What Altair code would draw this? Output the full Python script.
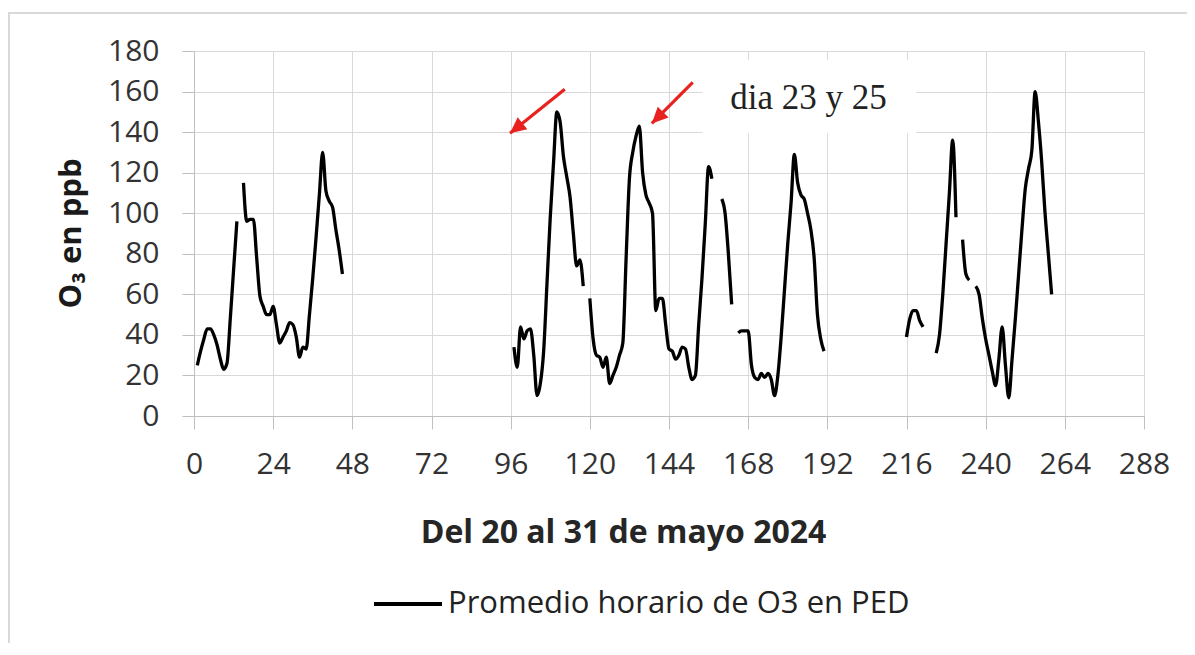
import altair as alt
import pandas as pd

# ---- data (hourly O3 averages, ppb) ----
serie_nombre = "Promedio horario de O3 en PED"
inicio_tramos = [1, 15, 97, 120, 160, 165, 216, 225, 233, 237]
tramo_1 = [25, 32, 38, 43, 43, 40, 35, 28, 23, 26, 48, 72, 96]
tramo_2 = [115, 96, 97, 97, 78, 59, 54, 50, 50, 54, 45, 36, 39, 42, 46, 45, 39, 29,
           34, 33, 50, 68, 88, 109, 130, 111, 106, 103, 92, 82, 70]
tramo_3 = [34, 24, 44, 38, 42, 43, 30, 10, 16, 32, 65, 98, 125, 150, 145, 128, 118,
           108, 90, 74, 77, 64]
tramo_4 = [58, 38, 30, 29, 24, 29, 16, 20, 24, 30, 36, 78, 117, 130, 138, 143, 120,
           109, 105, 100, 52, 58, 58, 45, 33, 32, 28, 30, 34, 33, 24, 18, 20, 45, 68,
           95, 123, 117]
tramo_5 = [107, 100, 80, 55]
tramo_6 = [41, 42, 42, 42, 25, 19, 18, 21, 19, 21, 18, 10, 20, 39, 62, 85, 105, 129,
           115, 109, 107, 100, 92, 78, 50, 38, 32]
tramo_7 = [39, 48, 52, 52, 47, 44]
tramo_8 = [31, 40, 60, 85, 110, 136, 98]
tramo_9 = [87, 70, 67]
tramo_10 = [64, 60, 48, 38, 30, 22, 15, 28, 44, 25, 9, 28, 48, 70, 92, 112, 122, 131,
            160, 145, 125, 100, 80, 60]
tramos = [tramo_1, tramo_2, tramo_3, tramo_4, tramo_5, tramo_6, tramo_7, tramo_8,
          tramo_9, tramo_10]

x_ticks = list(range(0, 289, 24))
y_ticks = list(range(0, 181, 20))

# annotation (data units)
nota_texto = ["dia 23 y 25"]
nota_x = [162.6]
nota_y = [151.6]
caja_x = [154.2]
caja_x2 = [219.0]
caja_y = [139.4]
caja_y2 = [175.4]
flecha_x_cola = [112.4, 151.2]
flecha_y_cola = [161.1, 164.5]
flecha_x_punta = [95.8, 138.8]
flecha_y_punta = [139.4, 144.3]
flecha_angulo = [231.3, 225.0]

rows = []
for sid, (h0, vals) in enumerate(zip(inicio_tramos, tramos)):
    for i, v in enumerate(vals):
        rows.append({"hora": h0 + i, "o3": v, "tramo": sid, "serie": serie_nombre})
df = pd.DataFrame(rows)

df_caja = pd.DataFrame({"x": caja_x, "x2": caja_x2, "y": caja_y, "y2": caja_y2})
df_nota = pd.DataFrame({"x": nota_x, "y": nota_y, "t": nota_texto})
df_flecha = pd.DataFrame({"x": flecha_x_cola, "y": flecha_y_cola,
                          "x2": flecha_x_punta, "y2": flecha_y_punta,
                          "ang": flecha_angulo})
df_one = pd.DataFrame({"a": [0]})

FONT = "Open Sans"
GRID = "#d9d9d9"
AX = "#bfbfbf"

xscale = alt.Scale(domain=[0, 288], nice=False, zero=False)
yscale = alt.Scale(domain=[0, 180], nice=False)

x_axis = alt.Axis(values=x_ticks, title="Del 20 al 31 de mayo 2024",
                  titleFont=FONT, titleFontSize=32, titleFontWeight="bold",
                  titleColor="#262626", titleX=429, titleY=126, titleAlign="center",
                  titleBaseline="alphabetic", titleAnchor="start",
                  labelFont=FONT, labelFontSize=30, labelColor="#333333",
                  labelBaseline="alphabetic", labelPadding=44, labelFlush=False,
                  tickSize=13, tickColor=AX, domainColor=AX, gridColor=GRID,
                  grid=True, labelOverlap=False)
y_axis = alt.Axis(values=y_ticks, title="O₃ en ppb",
                  titleFont=FONT, titleFontSize=31, titleFontWeight="bold",
                  titleColor="#1a1a1a", titleX=-114, titleY=182, titleAngle=270,
                  titleAlign="center", titleBaseline="alphabetic", titleAnchor="start",
                  labelFont=FONT, labelFontSize=30, labelColor="#333333",
                  labelPadding=23, tickSize=12, tickColor=AX, domainColor=AX,
                  gridColor=GRID, grid=True, labelOverlap=False)

line = alt.Chart(df).mark_line(strokeWidth=3.3, interpolate="monotone").encode(
    x=alt.X("hora:Q", scale=xscale, axis=x_axis),
    y=alt.Y("o3:Q", scale=yscale, axis=y_axis),
    detail="tramo:N",
    color=alt.Color("serie:N", scale=alt.Scale(range=["#000000"]),
                    legend=alt.Legend(title=None, orient="none", legendX=178,
                                      legendY=517, symbolType="stroke",
                                      symbolSize=4624, symbolStrokeWidth=4,
                                      labelFont=FONT, labelFontSize=31,
                                      labelColor="#222222", labelOffset=4,
                                      labelLimit=0, padding=0)),
)

caja = alt.Chart(df_caja).mark_rect(color="white").encode(
    x=alt.X("x:Q", scale=xscale), x2="x2:Q",
    y=alt.Y("y:Q", scale=yscale), y2="y2:Q")

nota = alt.Chart(df_nota).mark_text(align="left", baseline="alphabetic",
                                    font="Liberation Serif", fontSize=35,
                                    color="#222222").encode(
    x=alt.X("x:Q", scale=xscale), y=alt.Y("y:Q", scale=yscale), text="t:N")

flecha = alt.Chart(df_flecha).mark_rule(color="#e8231f", strokeWidth=3.2).encode(
    x=alt.X("x:Q", scale=xscale), y=alt.Y("y:Q", scale=yscale),
    x2="x2:Q", y2="y2:Q")

punta = alt.Chart(df_flecha).mark_point(shape="M0,0L-0.48,1L0.48,1Z", filled=True,
                                        size=1024, color="#e8231f",
                                        opacity=1, strokeWidth=0).encode(
    x=alt.X("x2:Q", scale=xscale), y=alt.Y("y2:Q", scale=yscale),
    angle=alt.Angle("ang:Q", scale=None))

marco_sup = alt.Chart(df_one).mark_rule(color="#d9d9d9", strokeWidth=2).encode(
    x=alt.value(-186), x2=alt.value(993), y=alt.value(-38))
marco_izq = alt.Chart(df_one).mark_rule(color="#d9d9d9", strokeWidth=2).encode(
    x=alt.value(-185), y=alt.value(-38), y2=alt.value(592))

chart = alt.layer(marco_sup, marco_izq, caja, line, nota, flecha, punta).properties(
    width=950, height=365,
    padding={"left": 186, "top": 43, "right": 43, "bottom": 227},
    autosize=alt.AutoSizeParams(type="none"),
    background="white",
).configure_view(stroke=None)

chart.save("out.html", embed_options={"renderer": "svg", "actions": False})
